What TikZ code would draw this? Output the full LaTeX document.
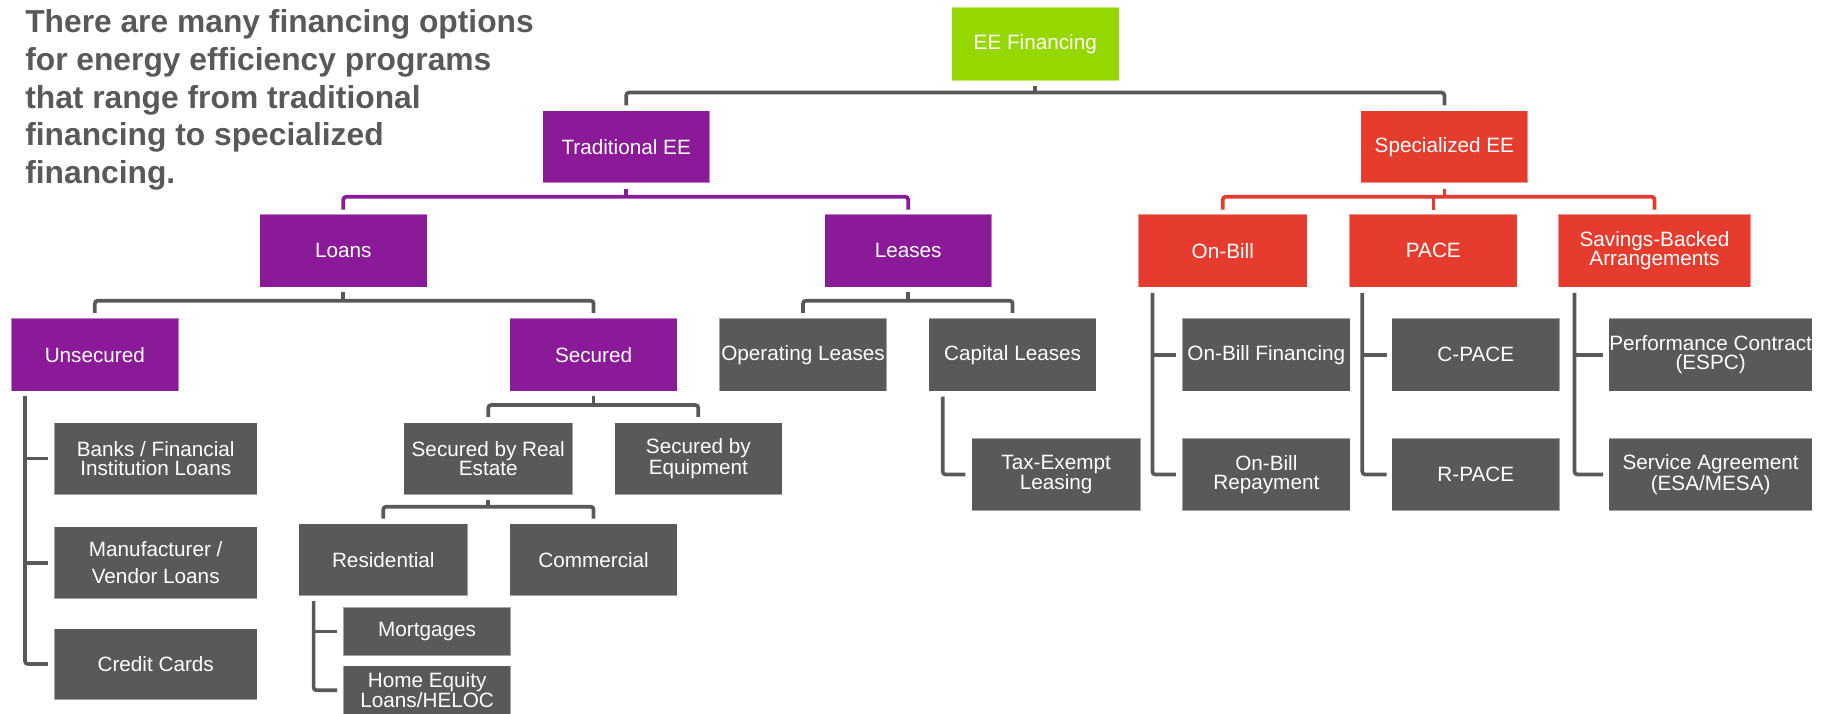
\documentclass[tikz,border=0pt]{standalone}
\usepackage{fontspec}
\setmainfont{Liberation Sans}
\definecolor{cgray}{HTML}{58595B}
\definecolor{cpurple}{HTML}{8B1A98}
\definecolor{cred}{HTML}{E53C2E}
\definecolor{cgreen}{HTML}{96D700}
\newcommand{\boxfont}{\fontsize{17.8}{16.5}\selectfont}
\tikzset{
  basebox/.style={minimum width=144pt, minimum height=62pt, inner sep=0pt,
    align=center, text=white, font=\boxfont, draw=white, draw opacity=0.45, line width=0.8pt},
  gbox/.style={basebox, fill=cgray},
  pbox/.style={basebox, fill=cpurple},
  rbox/.style={basebox, fill=cred},
  topbox/.style={basebox, fill=cgreen},
  conn/.style={line width=3.2pt, rounded corners=2.5pt},
  cgr/.style={conn, draw=cgray},
  cpu/.style={conn, draw=cpurple},
  cre/.style={conn, draw=cred},
  title/.style={anchor=north west, inner sep=0pt, align=left, text=cgray,
    font=\fontsize{27.3}{32.3}\selectfont\bfseries}
}
\begin{document}
\begin{tikzpicture}[x=1pt, y=-1pt]
\useasboundingbox (0,0) rectangle (1568,613);

% title
\node[title] (ttl) at (21.5,8.3) {There are many financing options\\for energy efficiency programs\\that range from traditional\\financing to specialized\\financing.};

% level 0-1
\node[topbox, minimum height=63pt] (ee) at (889.5,37.8) {EE Financing};
\node[pbox, minimum width=143.5pt] (trad) at (538,126) {Traditional EE};
\node[rbox, minimum width=143.5pt] (spec) at (1241,126) {Specialized EE};

% level 2
\node[pbox, minimum height=62.5pt] (loans) at (295,215.5) {Loans};
\node[pbox, minimum width=143.5pt, minimum height=62.5pt] (leases) at (780.3,215.5) {Leases};
\node[rbox, minimum width=145.5pt, minimum height=62.5pt] (onbill) at (1050.6,215.5) {On-Bill};
\node[rbox, minimum width=144.5pt, minimum height=62.5pt] (pace) at (1231.5,215.5) {PACE};
\node[rbox, minimum width=165pt, minimum height=62.5pt] (savings) at (1421.5,215.5) {Savings-Backed\\Arrangements};

% level 3
\node[pbox, minimum height=62.5pt] (unsec) at (81.5,304.7) {Unsecured};
\node[pbox, minimum height=62.5pt] (secured) at (510,304.7) {Secured};
\node[gbox, minimum height=62.5pt] (oplease) at (690,304.7) {Operating Leases};
\node[gbox, minimum height=62.5pt] (caplease) at (870,304.7) {Capital Leases};
\node[gbox, minimum width=144.5pt, minimum height=62.5pt] (obfin) at (1088,304.7) {On-Bill Financing};
\node[gbox, minimum width=144.5pt, minimum height=62.5pt] (cpace) at (1268,304.7) {C-PACE};
\node[gbox, minimum width=175pt, minimum height=62.5pt] (perf) at (1469.7,304.7) {Performance Contract\\(ESPC)};

% level 4
\node[gbox, minimum width=174.5pt] (banks) at (133.8,394) {Banks / Financial\\Institution Loans};
\node[gbox, minimum width=145pt] (sre) at (419.5,394) {Secured by Real\\Estate};
\node[gbox] (seq) at (600,394) {Secured by\\Equipment};
\node[gbox, minimum width=145pt] (taxex) at (907.4,407.7) {Tax-Exempt\\Leasing};
\node[gbox, minimum width=144.5pt] (obrep) at (1088,407.7) {On-Bill\\Repayment};
\node[gbox, minimum width=144.5pt] (rpace) at (1268,407.7) {R-PACE};
\node[gbox, minimum width=175pt] (serv) at (1469.7,407.7) {Service Agreement\\(ESA/MESA)};

% level 5
\node[gbox, minimum width=174.5pt] (manuf) at (133.8,483.5) {Manufacturer /\\[6.4pt]Vendor Loans};
\node[gbox, minimum width=145.5pt] (resid) at (329.3,481) {Residential};
\node[gbox] (comm) at (510,481) {Commercial};
\node[gbox, minimum width=174.5pt, minimum height=61pt] (credit) at (133.8,570.5) {Credit Cards};
\node[gbox, minimum height=41.6pt] (mort) at (367,542.6) {Mortgages};
\node[gbox, minimum height=42pt] (heloc) at (367,593.1) {Home Equity\\Loans/HELOC};

% bracket levels
\coordinate (b0) at (0,79.5);
\coordinate (b1) at (0,169);
\coordinate (b2) at (0,258.3);
\coordinate (b3) at (0,348);
\coordinate (b4) at (0,435.3);

% top
\draw[cgr] ([yshift=-4pt]ee.south) -- (ee.south |- b0);
\draw[cgr] ([yshift=4pt]trad.north) -- (trad.north |- b0) -- (spec.north |- b0) -- ([yshift=4pt]spec.north);

% traditional
\draw[cpu] ([yshift=-4.6pt]trad.south) -- (trad.south |- b1);
\draw[cpu] ([yshift=3.8pt]loans.north) -- (loans.north |- b1) -- (leases.north |- b1) -- ([yshift=3.8pt]leases.north);

% specialized
\draw[cre] ([yshift=-4.6pt]spec.south) -- (spec.south |- b1);
\draw[cre] ([yshift=3.8pt]onbill.north) -- (onbill.north |- b1) -- (savings.north |- b1) -- ([yshift=3.8pt]savings.north);
\draw[cre] ([yshift=3.8pt]pace.north) -- (pace.north |- b1);

% loans
\draw[cgr] ([yshift=-4pt]loans.south) -- (loans.south |- b2);
\draw[cgr] ([yshift=4.2pt]unsec.north) -- (unsec.north |- b2) -- (secured.north |- b2) -- ([yshift=4.2pt]secured.north);

% leases
\draw[cgr] ([yshift=-4pt]leases.south) -- (leases.south |- b2);
\draw[cgr] ([yshift=4.2pt]oplease.north) -- (oplease.north |- b2) -- (caplease.north |- b2) -- ([yshift=4.2pt]caplease.north);

% secured
\draw[cgr] ([yshift=-4pt]secured.south) -- (secured.south |- b3);
\draw[cgr] ([yshift=4.5pt]sre.north) -- (sre.north |- b3) -- (seq.north |- b3) -- ([yshift=4.5pt]seq.north);

% secured by real estate
\draw[cgr] ([yshift=-4.5pt]sre.south) -- (sre.south |- b4);
\draw[cgr] ([yshift=4pt]resid.north) -- (resid.north |- b4) -- (comm.north |- b4) -- ([yshift=4pt]comm.north);

% side bars
\coordinate (ux) at ([xshift=12.4pt]unsec.south west);
\draw[cgr] ([yshift=-4pt]ux) |- ([xshift=-5pt]credit.west);
\draw[cgr] (ux |- banks.west) -- ([xshift=-5pt]banks.west);
\draw[cgr] (ux |- manuf.west) -- ([xshift=-5pt]manuf.west);

\coordinate (rx) at ([xshift=13.3pt]resid.south west);
\draw[cgr] ([yshift=-4pt]rx) |- ([xshift=-5pt]heloc.west);
\draw[cgr] (rx |- mort.west) -- ([xshift=-5pt]mort.west);

\coordinate (cx) at ([xshift=12.4pt]caplease.south west);
\draw[cgr] ([yshift=-4.5pt]cx) |- ([xshift=-5pt]taxex.west);

\coordinate (ox) at ([xshift=12.7pt]onbill.south west);
\draw[cgr] ([yshift=-4.5pt]ox) |- ([xshift=-5pt]obrep.west);
\draw[cgr] (ox |- obfin.west) -- ([xshift=-5pt]obfin.west);

\coordinate (px) at ([xshift=11.6pt]pace.south west);
\draw[cgr] ([yshift=-4.5pt]px) |- ([xshift=-4pt]rpace.west);
\draw[cgr] (px |- cpace.west) -- ([xshift=-4pt]cpace.west);

\coordinate (sx) at ([xshift=14.2pt]savings.south west);
\draw[cgr] ([yshift=-4.5pt]sx) |- ([xshift=-4.4pt]serv.west);
\draw[cgr] (sx |- perf.west) -- ([xshift=-4.4pt]perf.west);
\end{tikzpicture}
\end{document}
